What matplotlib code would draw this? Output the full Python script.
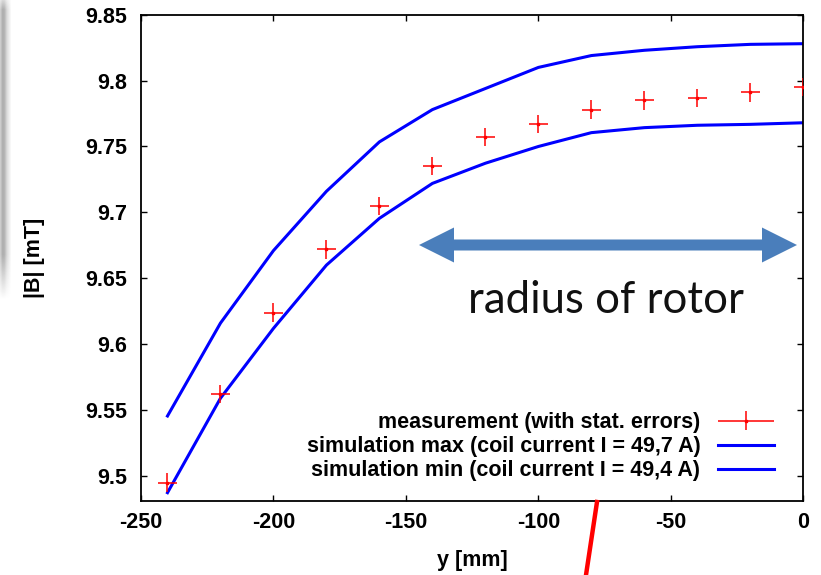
import numpy as np
import matplotlib
matplotlib.use("Agg")
import matplotlib.pyplot as plt
from matplotlib.patches import Polygon
from matplotlib.lines import Line2D
from matplotlib.legend_handler import HandlerErrorbar
from matplotlib.container import ErrorbarContainer

# ---- data ----
y_mm = [-240, -220, -200, -180, -160, -140, -120, -100, -80, -60, -40, -20, 0]
meas = [9.495, 9.562, 9.624, 9.672, 9.705, 9.735, 9.757, 9.767, 9.778, 9.785, 9.787, 9.791, 9.795]
meas_xerr = 3.5
meas_yerr = 0.007
sim_max = [9.5455, 9.616, 9.671, 9.716, 9.7535, 9.778, 9.794, 9.810, 9.819, 9.823, 9.8257, 9.8275, 9.828]
sim_min = [9.4873, 9.559, 9.612, 9.660, 9.6955, 9.722, 9.7373, 9.750, 9.7605, 9.7643, 9.7661, 9.7668, 9.768]

xticks = [-250, -200, -150, -100, -50, 0]
yticks = [9.5, 9.55, 9.6, 9.65, 9.7, 9.75, 9.8, 9.85]
ytick_labels = ["9.5", "9.55", "9.6", "9.65", "9.7", "9.75", "9.8", "9.85"]

labels = ["measurement (with stat. errors)",
          "simulation max (coil current I = 49,7 A)",
          "simulation min (coil current I = 49,4 A)"]

W, H = 821, 575
plt.rcParams['font.family'] = ['Liberation Sans', 'DejaVu Sans']
plt.rcParams['axes.unicode_minus'] = False
fig = plt.figure(figsize=(W / 100, H / 100), dpi=100)

L, R, T, B = 141, 803.3, 14.7, 501
ax = fig.add_axes([L / W, 1 - B / H, (R - L) / W, (B - T) / H])

fs = 15.5
eb = ax.errorbar(y_mm, meas, xerr=meas_xerr, yerr=meas_yerr, fmt='s', color='#ff0000',
                 ms=2.0, elinewidth=1.1, capsize=0, label=labels[0], zorder=3)
l1, = ax.plot(y_mm, sim_max, color='#0000ff', lw=2.2, label=labels[1], zorder=2)
l2, = ax.plot(y_mm, sim_min, color='#0000ff', lw=2.2, label=labels[2], zorder=2)

ax.set_xlim(-250, 0)
ax.set_ylim(9.481, 9.85)
ax.set_xticks(xticks)
ax.set_yticks(yticks)
ax.set_yticklabels(ytick_labels)
ax.tick_params(direction='in', length=4, width=1, top=True, right=True,
               labelsize=fs)
ax.tick_params(axis='x', pad=8)
ax.tick_params(axis='y', pad=10)
for lab in ax.get_xticklabels() + ax.get_yticklabels():
    lab.set_fontweight('bold')
for sp in ax.spines.values():
    sp.set_linewidth(1.3)

ax.set_xlabel("y [mm]", fontsize=fs, fontweight='bold')
ax.set_ylabel("|B| [mT]", fontsize=fs, fontweight='bold')
ax.xaxis.set_label_coords(0.5, -0.1)
ax.yaxis.set_label_coords(-0.145, 0.5)

leg = ax.legend([eb, l1, l2], labels, loc='lower right', markerfirst=False, frameon=False,
                prop={'size': fs, 'weight': 'bold'}, handlelength=2.6,
                handletextpad=0.8, labelspacing=0.13, borderaxespad=0.3,
                bbox_to_anchor=(0.978, 0.01),
                handler_map={ErrorbarContainer: HandlerErrorbar(xerr_size=1.3, yerr_size=0.44)})

# ---- annotation: double arrow and text ----
def fx(px):
    return px / W

def fy(py):
    return 1 - py / H

x0, x1, yc = 419, 797, 245
hl, hh, sh = 35, 17.5, 5.5
pts = [(x0, yc), (x0 + hl, yc - hh), (x0 + hl, yc - sh), (x1 - hl, yc - sh),
       (x1 - hl, yc - hh), (x1, yc), (x1 - hl, yc + hh), (x1 - hl, yc + sh),
       (x0 + hl, yc + sh), (x0 + hl, yc + hh)]
arrow = Polygon([(fx(a), fy(b)) for a, b in pts], closed=True,
                transform=fig.transFigure, facecolor='#4a7ebb', edgecolor='none')
fig.patches.append(arrow)
fig.text(fx(605.5), fy(313), "radius of rotor", ha='center', va='baseline',
         fontsize=31.5, family=['Lato', 'DejaVu Sans'], color='#111111')

# red stroke below the axes
fig.lines.append(Line2D([fx(597), fx(586)], [fy(502), fy(575)], color='#ff0000', lw=3.2,
                        transform=fig.transFigure))

# grey shadow at the left edge
sax = fig.add_axes([0, 1 - 300 / H, 12 / W, 300 / H])
xs = np.linspace(0, 1, 12)
prof = np.interp(xs, [0, 0.2, 0.35, 0.6, 1.0], [0.80, 0.68, 0.70, 0.86, 1.0])
ys = np.linspace(0, 1, 300)
vfade = np.interp(ys, [0, 0.03, 0.85, 1.0], [0.5, 1.0, 1.0, 0.0])
img = 1 - (1 - prof[None, :]) * vfade[:, None]
sax.imshow(img, cmap='gray', vmin=0, vmax=1, aspect='auto', interpolation='bilinear')
sax.axis('off')

fig.savefig("out.png", dpi=100)
